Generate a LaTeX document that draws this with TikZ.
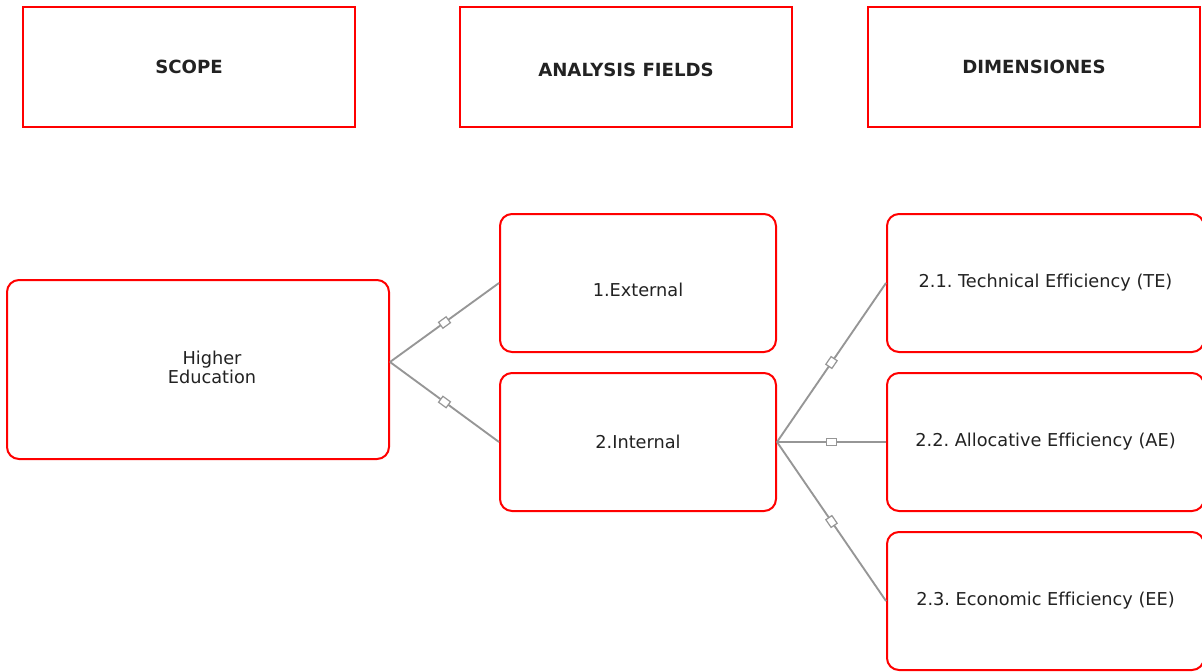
\documentclass[tikz,border=0pt]{standalone}
\usepackage{fontspec}
\setmainfont[Ligatures=NoCommon]{DejaVu Sans}
\usepackage{xcolor}
\usepackage{tikz}
\usetikzlibrary{positioning}

\definecolor{boxred}{HTML}{FF0000}
\definecolor{linegray}{HTML}{969696}
\definecolor{inkgray}{HTML}{222222}

\frenchspacing
\begin{document}
\begin{tikzpicture}[x=0.75pt, y=-0.75pt,
        every node/.style={text=inkgray, font=\fontsize{13.3}{14.5}\selectfont},
        headbox/.style={draw=boxred, line width=1.1pt, minimum width=249pt, minimum height=90pt,
            font=\fontsize{13.6}{14.5}\selectfont\bfseries},
        roundbox/.style={draw=boxred, line width=1.5pt, rounded corners=9pt, align=center},
        midbox/.style={roundbox, minimum width=207pt, minimum height=103.5pt},
        dimbox/.style={roundbox, minimum width=237.75pt, minimum height=103.5pt},
        link/.style={draw=linegray, line width=1.4pt},
        tick/.style={draw=linegray, fill=white, line width=0.9pt, sloped, midway,
            minimum width=7pt, minimum height=5.5pt, inner sep=0pt}]
        \useasboundingbox (0,0) rectangle (1202,671);
        % column heads
        \node[headbox] (scope) at (189,67) {SCOPE};
        \node[headbox, label={[font=\fontsize{13.6}{14.5}\selectfont\bfseries, yshift=-2.25pt]center:ANALYSIS FIELDS}] (fields) at (626,67) {};
        \node[headbox] (dims) at (1034,67) {DIMENSIONES};
        % scope and fields
        \node[roundbox, minimum width=286.5pt, minimum height=134.25pt,
            label={[align=center, xshift=10.5pt, yshift=1.5pt]center:Higher\\Education}] (hedu) at (198,369.5) {};
        \node[midbox, label={[yshift=-5pt]center:1.External}] (ext) at (638,283) {};
        \node[midbox] (int) at (638,442) {2.Internal};
        % dimensions
        \node[dimbox] (te) at (1045.5,283) {2.1. Technical Efficiency (TE)};
        \node[dimbox] (ae) at (1045.5,442) {2.2. Allocative Efficiency (AE)};
        \node[dimbox] (ee) at (1045.5,601) {2.3. Economic Efficiency (EE)};
        % links
        \coordinate (hout) at (hedu.east |- 0,362);
        \draw[link] (hout) -- node[tick] {} (ext.west);
        \draw[link] (hout) -- node[tick] {} (int.west);
        \draw[link] (int.east) -- node[tick] {} (te.west);
        \draw[link] (int.east) -- node[tick] {} (ae.west);
        \draw[link] (int.east) -- node[tick] {} (ee.west);
    \end{tikzpicture}
\end{document}
